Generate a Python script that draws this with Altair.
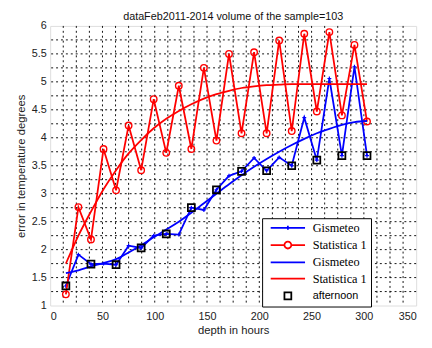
import altair as alt
import pandas as pd

hours = [15, 27, 39, 51, 63, 75, 87, 99, 111, 123, 135, 147, 159,
         171, 183, 195, 207, 219, 231, 243, 255, 267, 279, 291, 303]
gismeteo = [1.35, 1.91, 1.74, 1.75, 1.73, 2.07, 2.03, 2.25, 2.28, 2.27, 2.75, 2.71, 3.07,
            3.32, 3.40, 3.64, 3.41, 3.65, 3.50, 4.36, 3.60, 5.06, 3.68, 5.27, 3.68]
statistica = [1.20, 2.76, 2.18, 3.80, 3.06, 4.22, 3.42, 4.69, 3.73, 4.93, 3.80, 5.25, 3.95,
              5.50, 4.08, 5.53, 4.08, 5.74, 4.12, 5.86, 4.47, 5.89, 4.40, 5.66, 4.29]
gismeteo_fit = [1.58, 1.63, 1.70, 1.76, 1.83, 1.95, 2.08, 2.22, 2.36, 2.50, 2.66, 2.83, 3.00,
                3.17, 3.33, 3.48, 3.62, 3.75, 3.87, 3.98, 4.08, 4.16, 4.23, 4.28, 4.30]
statistica_fit = [1.75, 2.25, 2.68, 3.08, 3.42, 3.72, 3.96, 4.17, 4.34, 4.48, 4.60, 4.70, 4.78,
                  4.84, 4.89, 4.92, 4.94, 4.95, 4.96, 4.96, 4.96, 4.96, 4.96, 4.96, 4.96]
afternoon_hours = [15, 39, 63, 87, 111, 135, 159, 183, 207, 231, 255, 279, 303]
afternoon = [1.35, 1.74, 1.73, 2.03, 2.28, 2.75, 3.07, 3.40, 3.41, 3.50, 3.60, 3.68, 3.68]

x_ticks = [0, 50, 100, 150, 200, 250, 300, 350]
y_ticks = [1, 1.5, 2, 2.5, 3, 3.5, 4, 4.5, 5, 5.5, 6]
x_grid = [12.5 * i for i in range(1, 28)]
y_grid = [1 + 0.25 * i for i in range(1, 20)]

legend_keys = ["g1", "s1", "g2", "s2", "af"]
legend_labels = ["Gismeteo", "Statistica 1", "Gismeteo", "Statistica 1", "afternoon"]
legend_colors = ["#0000ff", "#ff0000", "#0000ff", "#ff0000", "#000000"]
legend_shapes = [
    "M-5,0H5M-0.6,0H0.6M0,-0.6V0.6",
    "M-5,0H-1M1,0H5M-1,0A1,1 0 1,0 1,0A1,1 0 1,0 -1,0",
    "M-5,0H5",
    "M-5,0H5",
    "M-1,-1H1V1H-1Z",
]

df = pd.DataFrame({"hours": hours, "gismeteo": gismeteo, "statistica": statistica,
                   "gfit": gismeteo_fit, "sfit": statistica_fit})
df_af = pd.DataFrame({"hours": afternoon_hours, "afternoon": afternoon})
df_xg = pd.DataFrame({"xg": x_grid})
df_yg = pd.DataFrame({"yg": y_grid})
df_leg = pd.DataFrame({"key": legend_keys})

BLUE = "#0000ff"
RED = "#ff0000"

xscale = alt.Scale(domain=[0, 350], nice=False, zero=False)
yscale = alt.Scale(domain=[1, 6], nice=False, zero=False)

xaxis = alt.Axis(values=x_ticks, title="depth in hours", grid=False, ticks=False, domain=False,
                 labelFontSize=11, labelPadding=5, titlePadding=3, titleFontSize=11.5,
                 titleFontWeight="normal", labelColor="#222", titleColor="#222",
                 labelFont="Liberation Sans", titleFont="Liberation Sans")
yaxis = alt.Axis(values=y_ticks, title="error in temperature degrees", grid=False, ticks=False,
                 domain=False, format="~g", labelFontSize=11, labelPadding=4, titlePadding=5,
                 titleFontSize=11.5, titleFontWeight="normal", labelColor="#222",
                 titleColor="#222", labelFont="Liberation Sans", titleFont="Liberation Sans")

base = alt.Chart(df)
X = alt.X("hours:Q", scale=xscale, axis=xaxis)

vgrid = alt.Chart(df_xg).mark_rule(color="#111", strokeWidth=1, strokeDash=[2, 3]).encode(
    x=alt.X("xg:Q", scale=xscale, axis=xaxis))
hgrid = alt.Chart(df_yg).mark_rule(color="#111", strokeWidth=1, strokeDash=[2, 3]).encode(
    y=alt.Y("yg:Q", scale=yscale, axis=yaxis))

g_line = base.mark_line(color=BLUE, strokeWidth=1.8).encode(
    x=X, y=alt.Y("gismeteo:Q", scale=yscale, axis=yaxis))
g_pts = base.mark_point(shape="M-1,0H1M0,-1V1", size=16, color=BLUE, strokeWidth=1.2,
                        filled=False, opacity=1).encode(
    x=X, y=alt.Y("gismeteo:Q", scale=yscale, axis=yaxis))
s_line = base.mark_line(color=RED, strokeWidth=1.8).encode(
    x=X, y=alt.Y("statistica:Q", scale=yscale, axis=yaxis))
s_pts = base.mark_point(shape="circle", size=44, color=RED, strokeWidth=1.4,
                        filled=False, opacity=1).encode(
    x=X, y=alt.Y("statistica:Q", scale=yscale, axis=yaxis))
g_fit = base.mark_line(color=BLUE, strokeWidth=1.8, interpolate="monotone").encode(
    x=X, y=alt.Y("gfit:Q", scale=yscale, axis=yaxis))
s_fit = base.mark_line(color=RED, strokeWidth=1.8, interpolate="monotone").encode(
    x=X, y=alt.Y("sfit:Q", scale=yscale, axis=yaxis))
af_pts = alt.Chart(df_af).mark_point(shape="square", size=50, color="#000", strokeWidth=1.8,
                                     filled=False, opacity=1).encode(
    x=alt.X("hours:Q", scale=xscale, axis=xaxis),
    y=alt.Y("afternoon:Q", scale=yscale, axis=yaxis))

label_expr = ("datum.value == 'g1' ? 'Gismeteo' : datum.value == 's1' ? "
              "'Statistica 1\u00a0\u00a0\u00a0\u00a0\u00a0\u00a0' : datum.value == 'g2' ? 'Gismeteo' : "
              "datum.value == 's2' ? 'Statistica 1' : 'afternoon'")

legend = alt.Legend(
    title=None, orient="none", legendX=216, legendY=196, direction="vertical",
    strokeColor="black", fillColor="white", padding=3.5, cornerRadius=0,
    symbolSize=49, symbolStrokeWidth=1.8, symbolOffset=16.5, labelOffset=19,
    symbolFillColor="transparent", symbolOpacity=1,
    labelFont={"expr": "datum.value == 'af' ? 'Liberation Sans' : 'Liberation Serif'"},
    labelFontSize={"expr": "datum.value == 'af' ? 11 : 12.5"},
    labelColor="black", labelLimit=0, rowPadding=3.6,
    labelExpr=label_expr,
)

leg = alt.Chart(df_leg).mark_point(filled=False, opacity=0).encode(
    x=alt.value(0), y=alt.value(0),
    color=alt.Color("key:N", scale=alt.Scale(domain=legend_keys, range=legend_colors), legend=legend),
    shape=alt.Shape("key:N", scale=alt.Scale(domain=legend_keys, range=legend_shapes), legend=legend),
)

chart = alt.layer(vgrid, hgrid, g_line, g_pts, s_line, s_pts, g_fit, s_fit, af_pts, leg).properties(
    width=373, height=285,
    padding={"left": 43, "top": 15, "right": 8, "bottom": 40},
    autosize=alt.AutoSizeParams(type="none"),
    title=alt.Title("dataFeb2011-2014 volume of the sample=103", fontSize=11,
                    fontWeight="normal", font="Liberation Sans", color="#111", offset=0,
                    dy=2, anchor="middle"),
).configure_view(stroke="black", strokeWidth=1).configure(background="white")

chart.save("out.html", embed_options={"renderer": "svg", "actions": False})
